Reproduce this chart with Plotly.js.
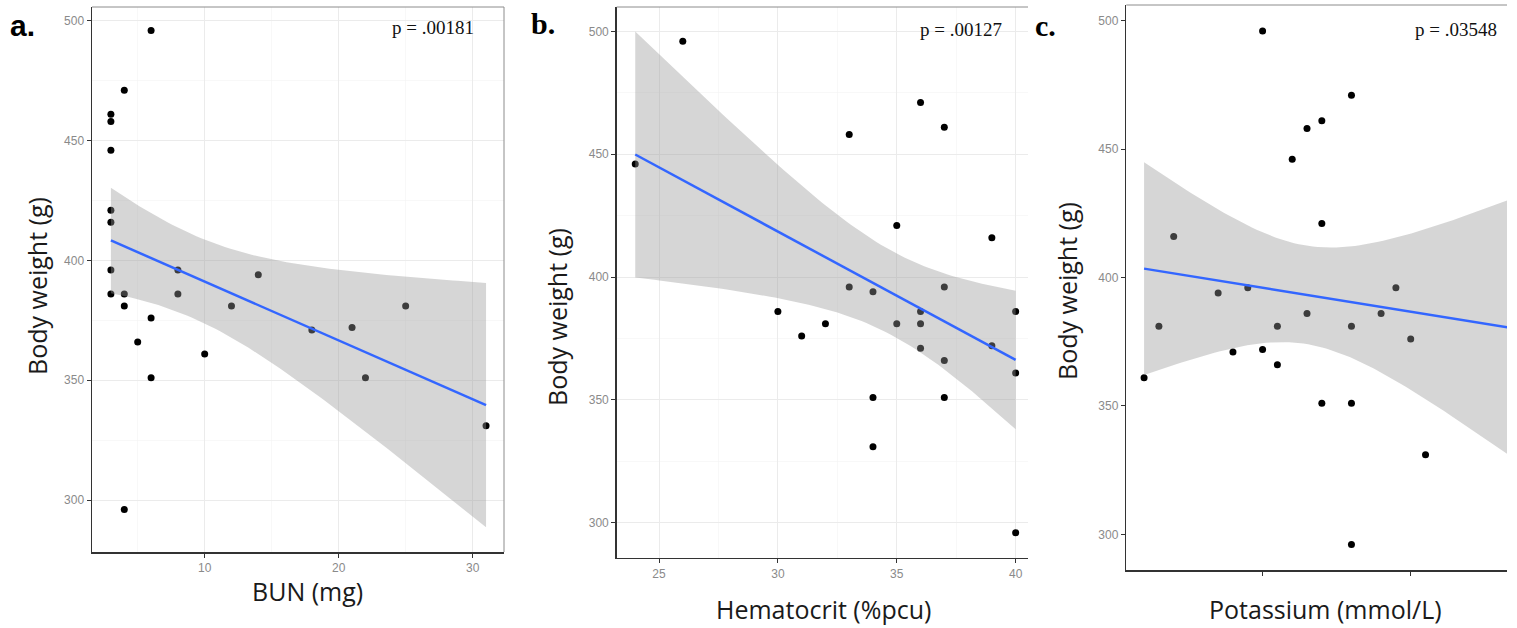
<!DOCTYPE html>
<html>
<head>
<meta charset="utf-8">
<script src="https://cdn.plot.ly/plotly-3.0.1.min.js"></script>
<style>html,body{margin:0;padding:0;background:#fff;}#chart{width:1517px;height:628px;}</style>
</head>
<body>
<div id="chart"></div>
<script>
// ---- data ----
const bunX = [6, 4, 3, 3, 3, 3, 3, 3, 3, 4, 4, 6, 8, 8, 12, 14, 25, 5, 10, 6, 18, 21, 22, 31, 4];
const bunY = [496, 471, 461, 458, 446, 421, 416, 396, 386, 386, 381, 376, 396, 386, 381, 394, 381, 366, 361, 351, 371, 372, 351, 331, 296];

const hctX = [26, 24, 33, 36, 37, 35, 39, 33, 34, 37, 30, 36, 40, 31, 32, 35, 36, 36, 37, 39, 40, 34, 37, 34, 40];
const hctY = [496, 446, 458, 471, 461, 421, 416, 396, 394, 396, 386, 386, 386, 376, 381, 381, 381, 371, 366, 372, 361, 351, 351, 331, 296];

const kX = [4.0, 4.6, 4.4, 4.3, 4.2, 4.4, 3.4, 3.7, 3.9, 4.9, 4.3, 4.8, 3.3, 4.1, 4.6, 5.0, 3.8, 4.0, 4.1, 3.2, 4.4, 4.6, 5.1, 4.6, 5.7];
const kY = [496, 471, 461, 458, 446, 421, 416, 394, 396, 396, 386, 386, 381, 381, 381, 376, 371, 372, 366, 361, 351, 351, 331, 296, 386];

const pLabels = ["p = .00181", "p = .00127", "p = .03548"];
const panelLabels = ["a.", "b.", "c."];
const xTitles = ["BUN (mg)", "Hematocrit (%pcu)", "Potassium (mmol/L)"];
const yTitle = "Body weight (g)";
const yTicks = [300, 350, 400, 450, 500];
const bunTicks = [10, 20, 30];
const hctTicks = [25, 30, 35, 40];
const kTicks = [4, 5];

// ---- linear fit with 95% confidence band (as geom_smooth(method = "lm")) ----
function lmBand(xs, ys) {
  const n = xs.length;
  const mx = xs.reduce((a, b) => a + b, 0) / n;
  const my = ys.reduce((a, b) => a + b, 0) / n;
  let sxx = 0, sxy = 0;
  for (let i = 0; i < n; i++) { sxx += (xs[i] - mx) ** 2; sxy += (xs[i] - mx) * (ys[i] - my); }
  const b = sxy / sxx, a = my - b * mx;
  let sse = 0;
  for (let i = 0; i < n; i++) sse += (ys[i] - a - b * xs[i]) ** 2;
  const s = Math.sqrt(sse / (n - 2));
  const t = 2.068658; // qt(0.975, 23)
  const lo = Math.min(...xs), hi = Math.max(...xs);
  const gx = [], fit = [], up = [], dn = [];
  for (let k = 0; k < 80; k++) {
    const x = lo + (hi - lo) * k / 79;
    const f = a + b * x;
    const se = s * Math.sqrt(1 / n + (x - mx) ** 2 / sxx);
    gx.push(x); fit.push(f); up.push(f + t * se); dn.push(f - t * se);
  }
  return { gx, fit, up, dn };
}

const W = 1517, H = 628;
const px = v => v / W, py = v => 1 - v / H;

const panels = [
  { xs: bunX, ys: bunY, xa: 'x', ya: 'y', xr: [1.59, 32.34], yr: [278.3, 505.8], dom: [92, 504], vdom: [7, 552], grid: true, ticks: bunTicks, minorX: 5, showLab: true, rightBorder: true },
  { xs: hctX, ys: hctY, xa: 'x2', ya: 'y2', xr: [23.22, 40.52], yr: [285.8, 509.9], dom: [616.7, 1028], vdom: [7, 557.7], grid: true, ticks: hctTicks, minorX: 2.5, showLab: true, rightBorder: false },
  { xs: kX, ys: kY, xa: 'x3', ya: 'y3', xr: [3.08, 5.65], yr: [286.1, 506.1], dom: [1126.3, 1507], vdom: [5, 570], grid: false, ticks: kTicks, minorX: 0.5, showLab: false, rightBorder: false }
];

const traces = [];
const layout = {
  width: W, height: H,
  margin: { l: 0, r: 0, t: 0, b: 0 },
  paper_bgcolor: '#ffffff', plot_bgcolor: 'rgba(0,0,0,0)',
  showlegend: false,
  annotations: [], shapes: []
};

panels.forEach((p, i) => {
  traces.push({ type: 'scatter', mode: 'markers', x: p.xs, y: p.ys, xaxis: p.xa, yaxis: p.ya,
    marker: { color: '#000000', size: 7 }, hoverinfo: 'skip' });
  const band = lmBand(p.xs, p.ys);
  traces.push({ type: 'scatter', mode: 'lines', x: band.gx.concat(band.gx.slice().reverse()),
    y: band.up.concat(band.dn.slice().reverse()), xaxis: p.xa, yaxis: p.ya,
    fill: 'toself', fillcolor: 'rgba(153,153,153,0.4)', line: { width: 0, color: 'rgba(0,0,0,0)' }, hoverinfo: 'skip' });
  traces.push({ type: 'scatter', mode: 'lines', x: band.gx, y: band.fit, xaxis: p.xa, yaxis: p.ya,
    line: { color: '#3366FF', width: 2.5 }, hoverinfo: 'skip' });

  const suffix = i === 0 ? '' : String(i + 1);
  const gridOn = p.grid;
  layout['xaxis' + suffix] = {
    domain: [px(p.dom[0]), px(p.dom[1])], range: p.xr, anchor: p.ya,
    tickmode: 'array', tickvals: p.ticks, ticktext: p.ticks.map(String), showticklabels: p.showLab,
    ticks: 'outside', ticklen: 4, tickwidth: 1, tickcolor: '#333333',
    tickfont: { family: 'Liberation Sans, Arial, sans-serif', size: 12, color: '#8a8a8a' },
    showline: true, linecolor: '#333333', linewidth: 1.5, mirror: false,
    showgrid: gridOn, gridcolor: '#ebebeb', gridwidth: 1, zeroline: false,
    minor: { showgrid: gridOn, dtick: p.minorX, tick0: 0, gridcolor: '#f3f3f3', gridwidth: 0.6 },
    fixedrange: true
  };
  layout['yaxis' + suffix] = {
    domain: [py(p.vdom[1]), py(p.vdom[0])], range: p.yr, anchor: p.xa,
    tickmode: 'array', tickvals: yTicks, ticktext: yTicks.map(String),
    ticks: 'outside', ticklen: 4, tickwidth: 1, tickcolor: '#333333',
    tickfont: { family: 'Liberation Sans, Arial, sans-serif', size: 12, color: '#8a8a8a' },
    showline: true, linecolor: '#333333', linewidth: 1.5, mirror: false,
    showgrid: gridOn, gridcolor: '#ebebeb', gridwidth: 1, zeroline: false,
    minor: { showgrid: gridOn, dtick: 25, tick0: 0, gridcolor: '#f3f3f3', gridwidth: 0.6 },
    fixedrange: true
  };
  // top border (and right border where the reference shows one)
  layout.shapes.push({ type: 'line', xref: p.xa + ' domain', yref: p.ya + ' domain', x0: 0, x1: 1, y0: 1, y1: 1,
    line: { color: '#8c8c8c', width: 1 } });
  if (p.rightBorder) {
    layout.shapes.push({ type: 'line', xref: p.xa + ' domain', yref: p.ya + ' domain', x0: 1, x1: 1, y0: 0, y1: 1,
      line: { color: '#8c8c8c', width: 1 } });
  }
});

const ann = (x, y, text, opts) => Object.assign({ xref: 'paper', yref: 'paper', x: px(x), y: py(y), text, showarrow: false, borderpad: 0 }, opts);
const serif = 'Liberation Serif, Times New Roman, serif';
const sans = 'Open Sans, sans-serif';

layout.annotations.push(ann(22, 25, '<b>' + panelLabels[0] + '</b>', { font: { family: 'Liberation Sans, Arial, sans-serif', size: 30, color: '#000' }, xanchor: 'center', yanchor: 'middle' }));
layout.annotations.push(ann(543, 23, '<b>' + panelLabels[1] + '</b>', { font: { family: serif, size: 30, color: '#000' }, xanchor: 'center', yanchor: 'middle' }));
layout.annotations.push(ann(1045, 25, '<b>' + panelLabels[2] + '</b>', { font: { family: serif, size: 30, color: '#000' }, xanchor: 'center', yanchor: 'middle' }));

layout.annotations.push(ann(475, 27, pLabels[0], { font: { family: serif, size: 19, color: '#111' }, xanchor: 'right', yanchor: 'middle' }));
layout.annotations.push(ann(1003, 29, pLabels[1], { font: { family: serif, size: 19, color: '#111' }, xanchor: 'right', yanchor: 'middle' }));
layout.annotations.push(ann(1498, 29, pLabels[2], { font: { family: serif, size: 19, color: '#111' }, xanchor: 'right', yanchor: 'middle' }));

layout.annotations.push(ann(307.5, 591, xTitles[0], { font: { family: sans, size: 25, color: '#1a1a1a' }, xanchor: 'center', yanchor: 'middle' }));
layout.annotations.push(ann(823.5, 609, xTitles[1], { font: { family: sans, size: 25, color: '#1a1a1a' }, xanchor: 'center', yanchor: 'middle' }));
layout.annotations.push(ann(1325, 609, xTitles[2], { font: { family: sans, size: 25, color: '#1a1a1a' }, xanchor: 'center', yanchor: 'middle' }));

layout.annotations.push(ann(37, 286, yTitle, { font: { family: sans, size: 25, color: '#1a1a1a' }, textangle: -90, xanchor: 'center', yanchor: 'middle' }));
layout.annotations.push(ann(557, 317, yTitle, { font: { family: sans, size: 25, color: '#1a1a1a' }, textangle: -90, xanchor: 'center', yanchor: 'middle' }));
layout.annotations.push(ann(1067, 291, yTitle, { font: { family: sans, size: 25, color: '#1a1a1a' }, textangle: -90, xanchor: 'center', yanchor: 'middle' }));

Plotly.newPlot('chart', traces, layout, { displayModeBar: false, staticPlot: true });
</script>
</body>
</html>
